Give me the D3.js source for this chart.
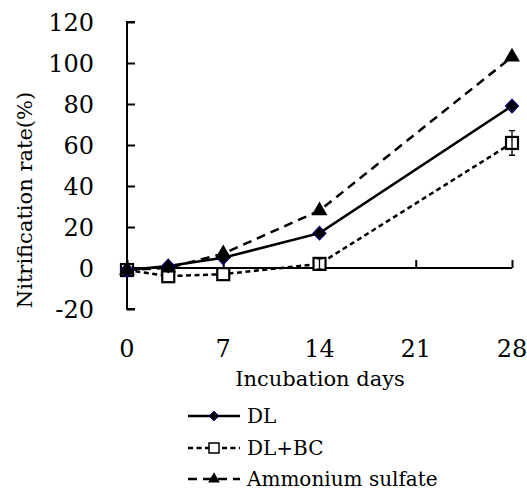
<!DOCTYPE html>
<html>
<head>
<meta charset="utf-8">
<script src="https://cdn.jsdelivr.net/npm/d3@7"></script>
<style>
  body { margin: 0; background: #fff; }
  svg text { font-family: "DejaVu Serif", serif; fill: #000; }
</style>
</head>
<body>
<div class="chart"></div>
<script>
// data
const days = [0, 3, 7, 14, 28];
const xTicks = [0, 7, 14, 21, 28];
const yTicks = [-20, 0, 20, 40, 60, 80, 100, 120];
const dl = [-1, 1, 5, 17, 79];
const dlbc = [-1, -4, -3, 2, 61];
const dlbcErr = [0, 0, 0, 2.5, 6];
const ammonium = [-1, 0, 7, 28, 103];

const width = 527, height = 490;

const svg = d3.select('.chart')
  .append('svg')
  .attr('width', width)
  .attr('height', height);

const x = d3.scaleLinear().domain([0, 28]).range([127, 512]);
const y = d3.scaleLinear().domain([-20, 120]).range([309, 22]);

// y axis, ticks pointing inward
svg.append('g')
  .attr('transform', `translate(${x(0)},0)`)
  .call(d3.axisRight(y).tickValues(yTicks).tickSize(8).tickFormat(''))
  .call(g => g.select('.domain').attr('d', `M8,${y(120)}H0V${y(-20)}H8`))
  .call(g => g.selectAll('line, path').attr('stroke', '#000').attr('stroke-width', 2));

// y tick labels
svg.append('g')
  .selectAll('text')
  .data(yTicks)
  .enter()
  .append('text')
  .attr('x', 94)
  .attr('y', d => y(d))
  .attr('dy', '0.36em')
  .attr('text-anchor', 'end')
  .style('font-size', '24px')
  .text(d => d);

// x axis along zero, ticks pointing up
svg.append('g')
  .attr('transform', `translate(0,${y(0)})`)
  .call(d3.axisTop(x).tickValues(xTicks).tickSize(8).tickFormat(''))
  .call(g => g.select('.domain').attr('d', `M${x(0)},0H${x(28)}`))
  .call(g => g.selectAll('line, path').attr('stroke', '#000').attr('stroke-width', 2));

svg.append('g')
  .selectAll('text')
  .data(xTicks)
  .enter()
  .append('text')
  .attr('x', d => x(d))
  .attr('y', 357)
  .attr('text-anchor', 'middle')
  .style('font-size', '24px')
  .text(d => d);

// axis titles
svg.append('text')
  .attr('transform', `translate(32,200) rotate(-90)`)
  .attr('text-anchor', 'middle')
  .style('font-size', '21px')
  .text('Nitrification rate(%)');

svg.append('text')
  .attr('x', 320)
  .attr('y', 386)
  .attr('text-anchor', 'middle')
  .style('font-size', '21px')
  .text('Incubation days');

const series = [
  { name: 'DL', values: dl, dash: null, marker: 'diamond' },
  { name: 'DL+BC', values: dlbc, dash: '5,3.5', marker: 'square', err: dlbcErr },
  { name: 'Ammonium sulfate', values: ammonium, dash: '9,6', marker: 'triangle' }
];

const line = d3.line()
  .x(d => x(d.day))
  .y(d => y(d.value));

function drawMarker(g, type, cx, cy) {
  if (type === 'diamond') {
    g.append('path')
      .attr('d', d3.symbol(d3.symbolDiamond2, 110)())
      .attr('transform', `translate(${cx},${cy}) scale(1,1.05)`)
      .attr('fill', '#000')
      .attr('stroke', '#000080')
      .attr('stroke-width', 1);
  } else if (type === 'square') {
    g.append('rect')
      .attr('x', cx - 6).attr('y', cy - 6)
      .attr('width', 12).attr('height', 12)
      .attr('fill', '#fff')
      .attr('stroke', '#000')
      .attr('stroke-width', 2.2);
  } else {
    g.append('path')
      .attr('d', d3.symbol(d3.symbolTriangle, 110)())
      .attr('transform', `translate(${cx},${cy})`)
      .attr('fill', '#000');
  }
}

const lines = svg.append('g').attr('class', 'lines');
series.forEach(s => {
  const pts = days.map((d, i) => ({ day: d, value: s.values[i] }));
  lines.append('path')
    .attr('d', line(pts))
    .attr('fill', 'none')
    .attr('stroke', '#000')
    .attr('stroke-width', 2.5)
    .attr('stroke-dasharray', s.dash);
});

// markers: squares first, then diamonds, triangles on top
['DL+BC', 'DL', 'Ammonium sulfate'].forEach(nm => {
  const s = series.find(d => d.name === nm);
  const g = svg.append('g');
  days.forEach((d, i) => {
    drawMarker(g, s.marker, x(d), y(s.values[i]));
    if (s.err && s.err[i] > 0) {
      const e = s.err[i];
      g.append('path')
        .attr('d', `M${x(d)},${y(s.values[i] + e)}V${y(s.values[i] - e)}` +
          `M${x(d) - 3},${y(s.values[i] + e)}H${x(d) + 3}` +
          `M${x(d) - 3},${y(s.values[i] - e)}H${x(d) + 3}`)
        .attr('stroke', '#000')
        .attr('stroke-width', 1.3)
        .attr('fill', 'none');
    }
  });
});

// legend
const legendY = [416, 448, 479];
series.forEach((s, i) => {
  const g = svg.append('g');
  g.append('line')
    .attr('x1', 188).attr('x2', 240)
    .attr('y1', legendY[i]).attr('y2', legendY[i])
    .attr('stroke', '#000')
    .attr('stroke-width', 2.5)
    .attr('stroke-dasharray', s.dash);
  if (s.marker === 'square') {
    g.append('rect')
      .attr('x', 209).attr('y', legendY[i] - 5)
      .attr('width', 10).attr('height', 10)
      .attr('fill', '#fff').attr('stroke', '#000').attr('stroke-width', 1.5);
  } else {
    g.append('path')
      .attr('d', d3.symbol(s.marker === 'diamond' ? d3.symbolDiamond2 : d3.symbolTriangle, 60)())
      .attr('transform', `translate(214,${legendY[i]})`)
      .attr('fill', '#000')
      .attr('stroke', s.marker === 'diamond' ? '#000080' : 'none')
      .attr('stroke-width', 1);
  }
  g.append('text')
    .attr('x', 247)
    .attr('y', legendY[i])
    .attr('dy', '0.36em')
    .style('font-size', '20px')
    .text(s.name);
});
</script>
</body>
</html>
